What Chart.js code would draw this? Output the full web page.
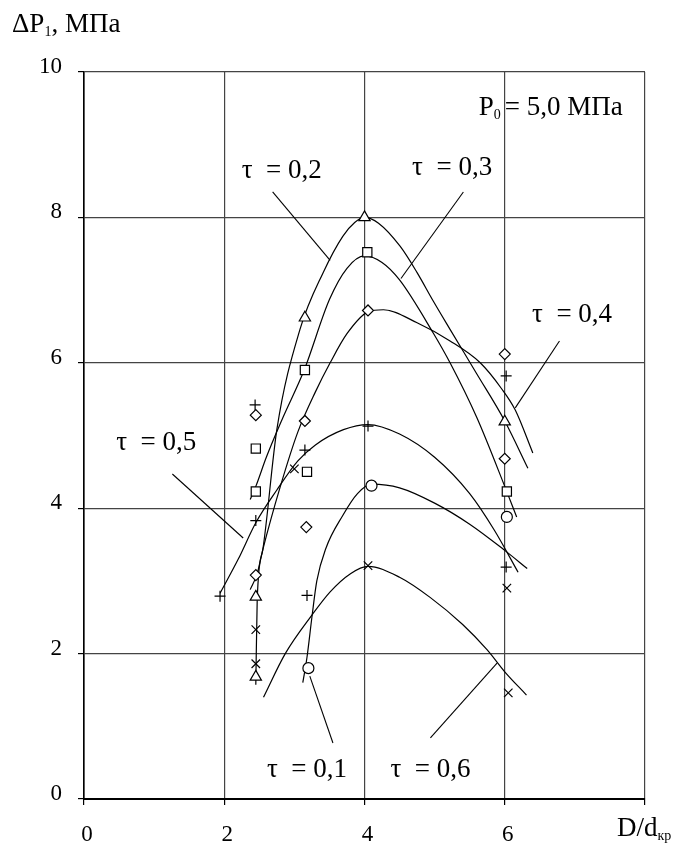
<!DOCTYPE html>
<html><head><meta charset="utf-8">
<script src="https://cdn.jsdelivr.net/npm/chart.js@4.4.1/dist/chart.umd.min.js"></script>
<style>html,body{margin:0;padding:0;background:#fff;}canvas{display:block}</style>
</head><body>
<canvas id="c" width="677" height="846"></canvas>
<script>
// ---- tick values ----
const xTicks = [0, 2, 4, 6, 8];
const yTicks = [0, 2, 4, 6, 8, 10];

// ---- measured points (markers) ----
const tau01PtsX = [3.2, 4.1, 6.03];
const tau01PtsY = [1.8, 4.31, 3.88];
const tau02PtsX = [2.45, 2.45, 3.15, 4.0, 6.0];
const tau02PtsY = [1.68, 2.78, 6.62, 8.0, 5.19];
const tau03PtsX = [2.45, 2.45, 3.15, 3.18, 4.04, 6.03];
const tau03PtsY = [4.23, 4.82, 5.9, 4.5, 7.52, 4.23];
const tau04PtsX = [2.45, 2.45, 3.15, 3.17, 4.05, 6.0, 6.0];
const tau04PtsY = [5.28, 3.08, 5.2, 3.74, 6.72, 6.12, 4.68];
const tau05PtsX = [1.94, 2.45, 2.44, 3.15, 3.18, 4.05, 6.02, 6.02];
const tau05PtsY = [2.79, 3.83, 5.42, 4.8, 2.8, 5.13, 5.82, 3.19];
const tau06PtsX = [2.45, 2.45, 3.0, 4.05, 6.03, 6.05];
const tau06PtsY = [2.33, 1.86, 4.54, 3.21, 2.9, 1.46];

// ---- fitted curves ----
const tau01CurveX = [3.12, 3.18, 3.25, 3.32, 3.45, 3.69, 3.9, 4.1, 4.5, 5.0, 5.5, 6.0, 6.32];
const tau01CurveY = [1.6, 1.95, 2.5, 3.0, 3.45, 3.9, 4.2, 4.33, 4.28, 4.07, 3.78, 3.42, 3.17];
const tau02CurveX = [2.45, 2.47, 2.55, 2.75, 3.08, 3.41, 3.69, 3.86, 4.0, 4.2, 4.51, 4.75, 4.98, 5.22, 5.6, 6.0, 6.33];
const tau02CurveY = [1.57, 2.74, 3.43, 5.08, 6.46, 7.24, 7.74, 7.93, 8.0, 7.92, 7.6, 7.24, 6.85, 6.46, 5.85, 5.2, 4.55];
const tau03CurveX = [2.37, 2.45, 2.6, 2.82, 3.14, 3.5, 3.75, 4.0, 4.25, 4.5, 4.98, 5.22, 5.6, 6.0, 6.17];
const tau03CurveY = [4.12, 4.3, 4.7, 5.21, 5.9, 6.87, 7.3, 7.47, 7.38, 7.14, 6.41, 6.0, 5.25, 4.3, 3.88];
const tau04CurveX = [2.37, 2.47, 2.55, 2.8, 3.05, 3.3, 3.51, 3.75, 4.05, 4.27, 4.75, 5.22, 5.65, 5.95, 6.15, 6.4];
const tau04CurveY = [2.88, 3.1, 3.43, 4.3, 5.05, 5.6, 6.0, 6.4, 6.7, 6.73, 6.55, 6.3, 6.0, 5.65, 5.35, 4.76];
const tau05CurveX = [1.94, 2.2, 2.45, 2.75, 3.05, 3.3, 3.7, 4.05, 4.5, 5.0, 5.5, 5.85, 6.19];
const tau05CurveY = [2.83, 3.3, 3.8, 4.25, 4.65, 4.87, 5.08, 5.15, 5.02, 4.7, 4.2, 3.7, 3.12];
const tau06CurveX = [2.56, 2.87, 3.25, 3.51, 3.8, 4.05, 4.5, 4.94, 5.4, 5.75, 6.0, 6.31];
const tau06CurveY = [1.4, 2.0, 2.53, 2.85, 3.1, 3.2, 3.05, 2.77, 2.4, 2.05, 1.75, 1.43];

// ---- label leader lines (endpoints in data units) ----
const lead01X = [3.22, 3.55], lead01Y = [1.69, 0.77];
const lead02X = [2.69, 3.51], lead02Y = [8.35, 7.41];
const lead03X = [5.41, 4.52], lead03Y = [8.35, 7.16];
const lead04X = [6.78, 6.15], lead04Y = [6.3, 5.38];
const lead05X = [1.26, 2.27], lead05Y = [4.47, 3.59];
const lead06X = [4.94, 5.89], lead06Y = [0.84, 1.87];

const tauNames = ['τ  = 0,1', 'τ  = 0,2', 'τ  = 0,3', 'τ  = 0,4', 'τ  = 0,5', 'τ  = 0,6'];

function pts(xs, ys) { return xs.map((x, i) => ({ x: x, y: ys[i] })); }

const FONT = '"Liberation Serif", "Times New Roman", serif';

function curve(xs, ys) {
  return { type: 'line', data: pts(xs, ys), showLine: true, borderColor: '#000', borderWidth: 1.2,
    pointRadius: 0, cubicInterpolationMode: 'monotone', fill: false, order: 3 };
}
function leader(xs, ys) {
  return { type: 'line', data: pts(xs, ys), showLine: true, borderColor: '#000', borderWidth: 1.1,
    pointRadius: 0, tension: 0, fill: false, order: 3 };
}
function marks(xs, ys, style, r) {
  return { type: 'scatter', data: pts(xs, ys), showLine: false, pointStyle: style, pointRadius: r,
    pointBorderColor: '#000', pointBackgroundColor: '#fff', pointBorderWidth: 1.2, order: 1 };
}

const labelPlugin = {
  id: 'labels',
  afterDatasetsDraw(chart, args, opts) {
    const { ctx } = chart;
    const sx = chart.scales.x, sy = chart.scales.y;
    ctx.save();
    ctx.fillStyle = '#000';
    ctx.font = '27px ' + FONT;
    ctx.textAlign = 'center';
    ctx.textBaseline = 'middle';
    opts.tau.forEach(l => {
      ctx.fillText(l.t, sx.getPixelForValue(l.x), sy.getPixelForValue(l.y));
    });
    ctx.textAlign = 'left';
    ctx.textBaseline = 'alphabetic';
    function rich(parts, x, y) {
      let cx = x;
      parts.forEach(p => {
        if (p.sub) {
          ctx.font = '14px ' + FONT;
          ctx.fillText(p.t, cx, y + 4);
        } else {
          ctx.font = '27px ' + FONT;
          ctx.fillText(p.t, cx, y);
        }
        cx += ctx.measureText(p.t).width + (p.gap || 0);
      });
    }
    // P0 label inside plot
    rich([{ t: 'P' }, { t: '0', sub: true, gap: 4 }, { t: '= 5,0 МПа' }], sx.getPixelForValue(opts.p0.x), sy.getPixelForValue(opts.p0.y));
    // axis titles
    rich([{ t: 'ΔP' }, { t: '1', sub: true }, { t: ', МПа' }], 12, 32);
    rich([{ t: 'D/d' }, { t: 'кр', sub: true }], 617, 836);
    ctx.restore();
  }
};

new Chart(document.getElementById('c'), {
  type: 'scatter',
  data: {
    datasets: [
      marks(tau02PtsX, tau02PtsY, 'triangle', 6.5),
      marks(tau03PtsX, tau03PtsY, 'rect', 6.5),
      marks(tau04PtsX, tau04PtsY, 'rectRot', 5.5),
      marks(tau05PtsX, tau05PtsY, 'cross', 5.5),
      marks(tau01PtsX, tau01PtsY, 'circle', 5.5),
      marks(tau06PtsX, tau06PtsY, 'crossRot', 6),
      curve(tau01CurveX, tau01CurveY),
      curve(tau02CurveX, tau02CurveY),
      curve(tau03CurveX, tau03CurveY),
      curve(tau04CurveX, tau04CurveY),
      curve(tau05CurveX, tau05CurveY),
      curve(tau06CurveX, tau06CurveY),
      leader(lead01X, lead01Y),
      leader(lead02X, lead02Y),
      leader(lead03X, lead03Y),
      leader(lead04X, lead04Y),
      leader(lead05X, lead05Y),
      leader(lead06X, lead06Y)
    ]
  },
  options: {
    responsive: false,
    animation: false,
    layout: { padding: { left: 0, top: 72, right: 32, bottom: 0 } },
    plugins: {
      legend: { display: false },
      tooltip: { enabled: false },
      labels: {
        tau: [
          { t: tauNames[0], x: 3.18, y: 0.4 },
          { t: tauNames[1], x: 2.82, y: 8.64 },
          { t: tauNames[2], x: 5.25, y: 8.68 },
          { t: tauNames[3], x: 6.96, y: 6.66 },
          { t: tauNames[4], x: 1.03, y: 4.9 },
          { t: tauNames[5], x: 4.94, y: 0.4 }
        ],
        p0: { x: 5.63, y: 9.41 }
      }
    },
    scales: {
      x: {
        type: 'linear', min: 0, max: 8,
        afterBuildTicks: s => { s.ticks = xTicks.map(v => ({ value: v })); },
        afterFit: s => { s.height = 47; },
        grid: { color: '#444', lineWidth: 1.2, tickLength: 6, drawTicks: true, tickColor: '#000' },
        border: { color: '#000', width: 2 },
        ticks: { color: '#000', font: { family: FONT, size: 23 }, padding: 16, labelOffset: 3,
          maxRotation: 0, callback: v => (v === 8 ? '' : String(v)) }
      },
      y: {
        type: 'linear', min: 0, max: 10,
        afterBuildTicks: s => { s.ticks = yTicks.map(v => ({ value: v })); },
        afterFit: s => { s.width = 84; },
        grid: { color: '#444', lineWidth: 1.2, tickLength: 6, drawTicks: true, tickColor: '#000' },
        border: { color: '#000', width: 1.6 },
        ticks: { color: '#000', font: { family: FONT, size: 23 }, padding: 16, labelOffset: -5,
          callback: v => String(v) }
      }
    }
  },
  plugins: [labelPlugin]
});
</script>
</body></html>
